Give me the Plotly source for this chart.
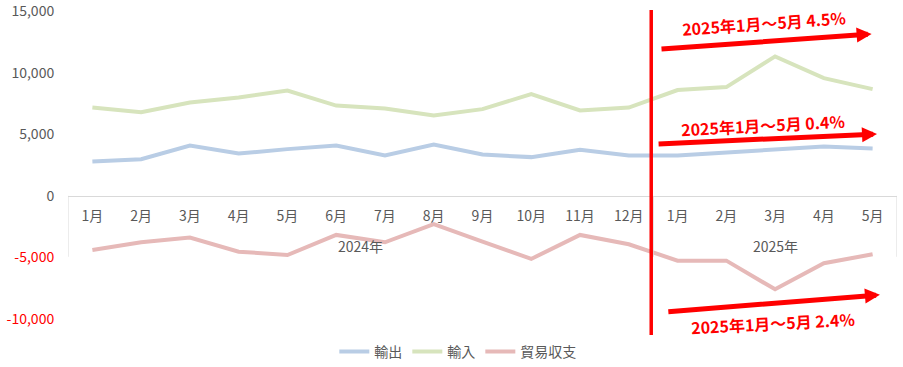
import plotly.graph_objects as go

years = ["2024年"] * 12 + ["2025年"] * 5
months = ["1月", "2月", "3月", "4月", "5月", "6月", "7月", "8月", "9月", "10月", "11月", "12月",
          "1月", "2月", "3月", "4月", "5月"]

exports = [2790, 2980, 4090, 3440, 3800, 4090, 3280, 4170, 3360, 3150, 3740, 3280,
           3280, 3520, 3740, 4010, 3850]
imports = [7180, 6800, 7590, 7990, 8560, 7340, 7100, 6530, 7050, 8270, 6940, 7180,
           8600, 8840, 11330, 9570, 8670]
balance = [-4390, -3770, -3390, -4530, -4800, -3170, -3770, -2300, -3710, -5120, -3170, -3930,
           -5260, -5260, -7590, -5470, -4740]

ytick_vals = [15000, 10000, 5000, 0, -5000, -10000]
ytick_text = ["15,000", "10,000", "5,000", "0",
              '<span style="color:#FF0000">-5,000</span>',
              '<span style="color:#FF0000">-10,000</span>']

notes = ["2025年1月～5月 4.5%", "2025年1月～5月 0.4%", "2025年1月～5月 2.4%"]

FONT = "Noto Sans CJK JP"
GRAY = "#595959"
AXIS = "#D9D9D9"
YMIN, YMAX = -10000, 15020

idx = list(range(len(months)))

fig = go.Figure()
fig.add_trace(go.Scatter(x=idx, y=exports, mode="lines", name="輸出",
                         line=dict(color="#B9CDE5", width=4)))
fig.add_trace(go.Scatter(x=idx, y=imports, mode="lines", name="輸入",
                         line=dict(color="#D7E4BD", width=4)))
fig.add_trace(go.Scatter(x=idx, y=balance, mode="lines", name="貿易収支",
                         line=dict(color="#E6B9B8", width=4)))

# year group labels and dividers of the two-level category axis
group_names = []
for yv in years:
    if yv not in group_names:
        group_names.append(yv)
bounds = [-0.5]
for g in group_names:
    members = [i for i, yv in zip(idx, years) if yv == g]
    fig.add_annotation(x=sum(members) / len(members), y=0.237, xref="x", yref="paper",
                       text=g, showarrow=False, yanchor="middle", xanchor="center",
                       font=dict(family=FONT, size=14, color=GRAY))
    bounds.append(members[-1] + 0.5)
for b in bounds:
    fig.add_shape(type="line", xref="x", yref="paper", x0=b, x1=b, y0=0.4, y1=0.202,
                  line=dict(color=AXIS, width=1))

# red divider line between 2024 and 2025
fig.add_shape(type="line", xref="x", yref="paper", x0=11.46, x1=11.46, y0=-0.052, y1=1.003,
              line=dict(color="#FF0000", width=3.5))

arrows = [
    dict(tail=(11.64, 11930), head=(15.98, 13150), text=(13.77, 14040), angle=-4),
    dict(tail=(11.58, 4220), head=(16.09, 5030), text=(13.75, 5760), angle=-3),
    dict(tail=(11.78, -9420), head=(16.15, -8040), text=(13.95, -10310), angle=-3),
]
for a, t in zip(arrows, notes):
    fig.add_annotation(x=a["head"][0], y=a["head"][1], ax=a["tail"][0], ay=a["tail"][1],
                       xref="x", yref="y", axref="x", ayref="y", text="",
                       showarrow=True, arrowhead=2, arrowsize=0.6, arrowwidth=5,
                       arrowcolor="#FF0000")
    ypaper = (a["text"][1] - YMIN) / (YMAX - YMIN)
    fig.add_annotation(x=a["text"][0], y=ypaper, xref="x", yref="paper",
                       xanchor="center", yanchor="middle",
                       text="<b>" + t + "</b>",
                       showarrow=False, textangle=a["angle"],
                       font=dict(family=FONT, size=16, color="#FF0000"))

fig.update_layout(
    width=903, height=367,
    margin=dict(l=68, r=6, t=11, b=48, autoexpand=False),
    paper_bgcolor="white", plot_bgcolor="white",
    font=dict(family=FONT, size=13, color=GRAY),
    showlegend=True,
    legend=dict(orientation="h", xref="container", yref="container",
                x=0.507, xanchor="center", y=0.041, yanchor="middle",
                font=dict(family=FONT, size=14, color=GRAY), itemwidth=30),
    xaxis=dict(anchor="free", position=0.4, range=[-0.5, 16.5],
               tickvals=idx, ticktext=months,
               showline=True, linecolor=AXIS, linewidth=1, automargin=False,
               showgrid=False, zeroline=False, ticks="", ticklabelstandoff=7,
               tickfont=dict(family=FONT, size=14, color=GRAY)),
    yaxis=dict(range=[YMIN, YMAX], tickvals=ytick_vals, ticktext=ytick_text,
               showgrid=False, zeroline=False, showline=False, automargin=False,
               ticks="outside", ticklen=10, tickcolor="rgba(0,0,0,0)",
               tickfont=dict(family=FONT, size=14, color=GRAY)),
)

fig.write_html("out.html", config={"displayModeBar": False},
               post_script="document.body.style.margin='0';")
